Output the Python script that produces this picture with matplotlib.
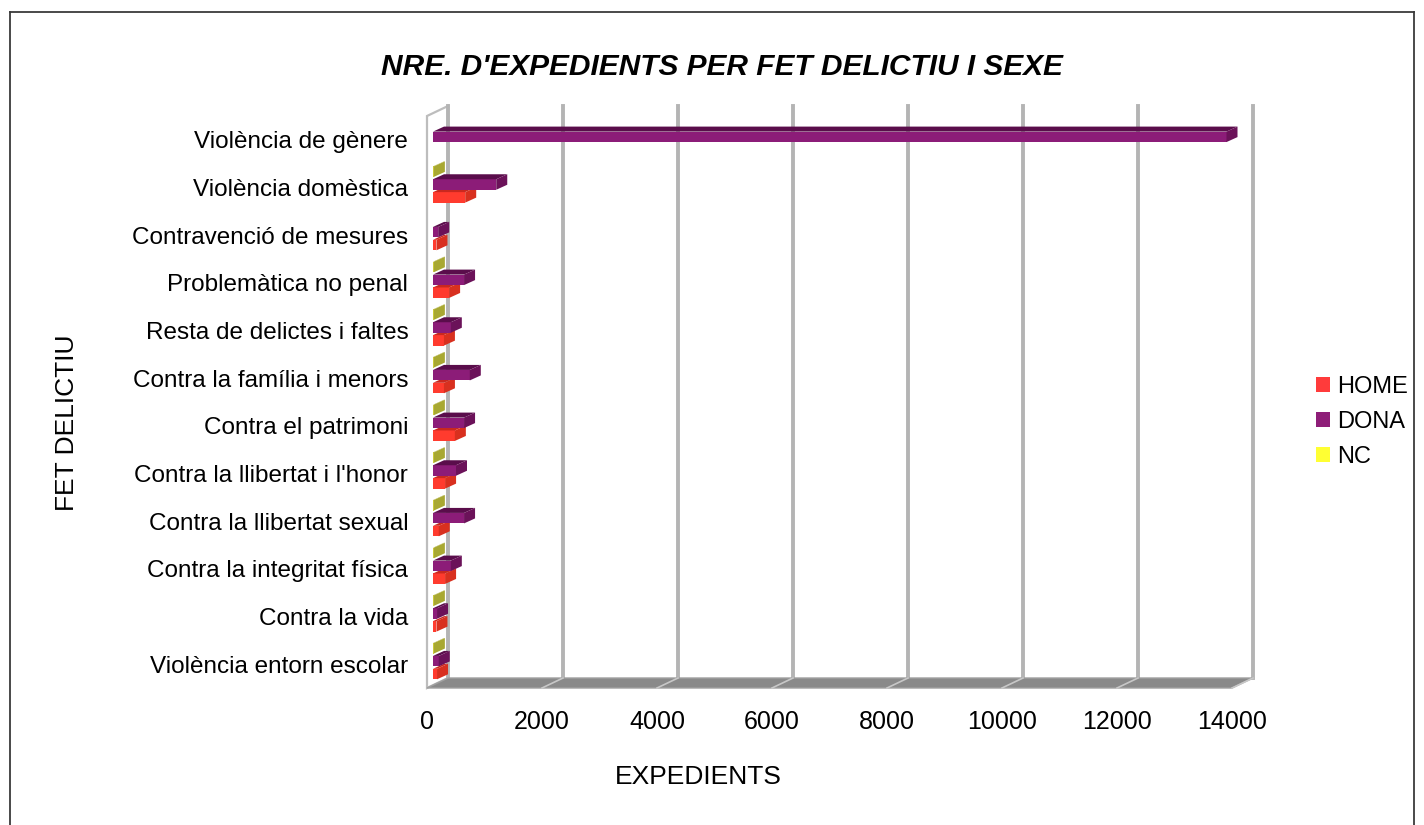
import numpy as np
import matplotlib
matplotlib.use("Agg")
import matplotlib.pyplot as plt
from matplotlib.patches import Polygon, Patch
from matplotlib.transforms import offset_copy
from matplotlib.lines import Line2D

plt.rcParams['font.family'] = ['Liberation Sans', 'DejaVu Sans']

# ---------------- data ----------------
categories = [
    "Violència de gènere",
    "Violència domèstica",
    "Contravenció de mesures",
    "Problemàtica no penal",
    "Resta de delictes i faltes",
    "Contra la família i menors",
    "Contra el patrimoni",
    "Contra la llibertat i l'honor",
    "Contra la llibertat sexual",
    "Contra la integritat física",
    "Contra la vida",
    "Violència entorn escolar",
]
home = [0, 560, 60, 280, 190, 190, 380, 210, 100, 210, 60, 70]
dona = [13800, 1100, 90, 540, 310, 640, 540, 400, 540, 310, 70, 100]
nc = [0, 15, 0, 15, 15, 15, 15, 15, 15, 15, 15, 15]
series_names = ["HOME", "DONA", "NC"]
x_ticks = [0, 2000, 4000, 6000, 8000, 10000, 12000, 14000]

title = "NRE. D'EXPEDIENTS PER FET DELICTIU I SEXE"
xlabel = "EXPEDIENTS"
ylabel = "FET DELICTIU"

# ---------------- styling ----------------
W, H = 1424, 825
DPI = 100
colors_front = {"HOME": "#ff3b2e", "DONA": "#8c1c78", "NC": "#d0d03c"}
colors_top = {"HOME": "#c9281f", "DONA": "#5a0d4b", "NC": "#b4b43a"}
colors_side = {"HOME": "#d8301f", "DONA": "#6b1259", "NC": "#a8a832"}
legend_colors = {"HOME": "#ff3b3b", "DONA": "#8e1e78", "NC": "#ffff33"}

fig = plt.figure(figsize=(W / DPI, H / DPI), dpi=DPI)
fig.patch.set_facecolor("white")

# front plane of the 3D box
fx0, fx1, fy_top, fy_bot = 427, 1232, 116, 688
ax = fig.add_axes([fx0 / W, (H - fy_bot) / H, (fx1 - fx0) / W, (fy_bot - fy_top) / H])
ax.set_xlim(x_ticks[0], x_ticks[-1])
n = len(categories)
ax.set_ylim(-0.5, n - 0.5)
for s in ax.spines.values():
    s.set_visible(False)
ax.patch.set_alpha(0)

ypos = np.arange(n)[::-1]  # first category on top

def px2data(dxp, dyp):
    p0 = ax.transData.transform((0, 0))
    q = ax.transData.inverted().transform(p0 + np.array([dxp, dyp]))
    return q[0], q[1]

DEPTH = (21, 10)  # wall depth in pixels
ddx_w, ddy_w = px2data(*DEPTH)
tr_back = offset_copy(ax.transData, fig=fig, x=DEPTH[0], y=DEPTH[1], units='dots')

ylo, yhi = -0.5, n - 0.5
xmax = x_ticks[-1]

# left wall
wall = Polygon([(0, ylo), (0, yhi), (ddx_w, yhi + ddy_w), (ddx_w, ylo + ddy_w)],
               closed=True, facecolor="white", edgecolor="#bdbdbd", lw=1.6,
               clip_on=False, zorder=1)
ax.add_patch(wall)

# back wall gridlines
for xt in x_ticks:
    ax.add_line(Line2D([xt, xt], [ylo, yhi], transform=tr_back, color="#b4b4b4",
                       lw=2.8, clip_on=False, zorder=1.5))

# floor
floor = Polygon([(0, ylo), (xmax, ylo), (xmax + ddx_w, ylo + ddy_w), (ddx_w, ylo + ddy_w)],
                closed=True, facecolor="#8a8a8a", edgecolor="#a0a0a0", lw=1,
                clip_on=False, zorder=2)
ax.add_patch(floor)
for xt in x_ticks[1:]:
    ax.add_line(Line2D([xt, xt + ddx_w], [ylo, ylo + ddy_w], color="#c8c8c8",
                       lw=1.2, clip_on=False, zorder=2.1))

# bars
BAR_SHIFT = (6, 3)
BAR_DEPTH = (11, 5)
tr_bar = offset_copy(ax.transData, fig=fig, x=BAR_SHIFT[0], y=BAR_SHIFT[1], units='dots')
bdx, bdy = px2data(*BAR_DEPTH)
h = 0.22
gap = 0.27
series = [("HOME", home, -gap), ("DONA", dona, 0.0), ("NC", nc, gap)]

z = 3
for i in range(n):
    for name, vals, off in series:
        v = vals[i]
        if v <= 0:
            continue
        yc = ypos[i] + off
        bars = ax.barh([yc], [v], height=h, left=0, color=colors_front[name],
                       edgecolor="none", zorder=z)
        for r in bars:
            r.set_transform(tr_bar)
            r.set_clip_on(False)
        top = yc + h / 2
        bot = yc - h / 2
        topface = Polygon([(0, top), (v, top), (v + bdx, top + bdy), (bdx, top + bdy)],
                          closed=True, facecolor=colors_top[name], edgecolor="none",
                          transform=tr_bar, clip_on=False, zorder=z)
        side = Polygon([(v, bot), (v, top), (v + bdx, top + bdy), (v + bdx, bot + bdy)],
                       closed=True, facecolor=colors_side[name], edgecolor="none",
                       transform=tr_bar, clip_on=False, zorder=z)
        ax.add_patch(topface)
        ax.add_patch(side)
        z += 0.01

# ticks
ax.set_yticks(ypos)
ax.set_yticklabels(categories, fontsize=17.5)
ax.tick_params(axis='y', length=0, pad=13.5)
ax.set_xticks(x_ticks)
ax.set_xticklabels([str(t) for t in x_ticks], fontsize=18)
ax.tick_params(axis='x', length=0, pad=16)

# titles
fig.text(722 / W, 1 - 67 / H, title, ha='center', va='center', fontsize=21.5,
         fontweight='bold', fontstyle='italic')
fig.text(698 / W, 1 - 777 / H, xlabel, ha='center', va='center', fontsize=19)
fig.text(67 / W, 1 - 423 / H, ylabel, ha='center', va='center', fontsize=19,
         rotation=90)

# legend
handles = [Patch(facecolor=legend_colors[s], edgecolor='none') for s in series_names]
fig.legend(handles, series_names, loc='center left',
           bbox_to_anchor=(1316 / W, 1 - 422 / H), frameon=False, fontsize=17,
           handlelength=0.6, handleheight=0.6, handletextpad=0.3,
           labelspacing=0.56, borderaxespad=0, borderpad=0)

# figure frame
frame_kw = dict(color="#3a3a3a", lw=1.3, transform=fig.transFigure)
fig.add_artist(Line2D([10 / W, 1414 / W], [1 - 12 / H, 1 - 12 / H], **frame_kw))
fig.add_artist(Line2D([10 / W, 10 / W], [1 - 12 / H, 0], **frame_kw))
fig.add_artist(Line2D([1414 / W, 1414 / W], [1 - 12 / H, 0], **frame_kw))

fig.savefig("out.png", dpi=DPI)
